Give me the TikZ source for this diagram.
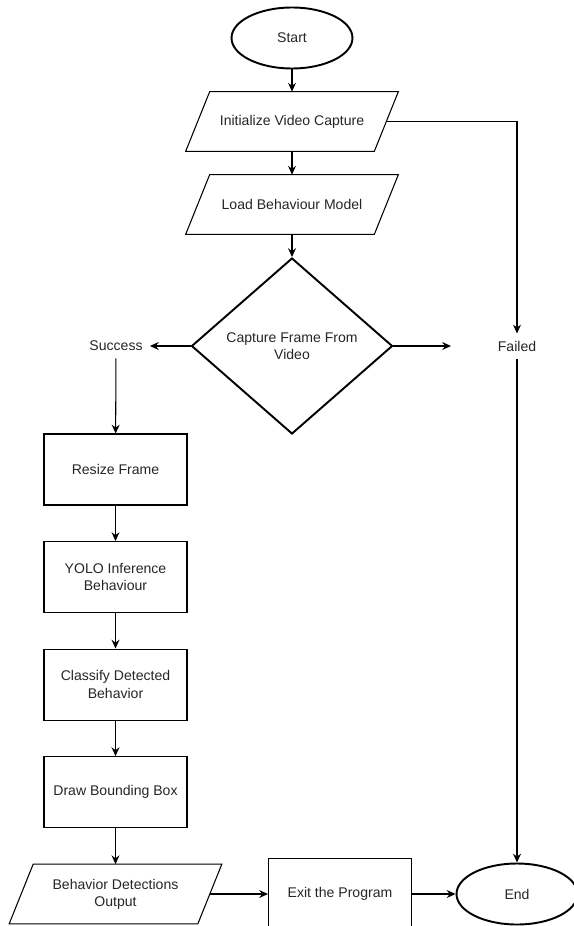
\documentclass[tikz,border=0pt]{standalone}
\usepackage{fontspec}
\setmainfont{Liberation Sans}
\usetikzlibrary{positioning,calc,shapes.geometric,arrows.meta}
\tikzset{>={Stealth[length=5pt,width=4.5pt]}}
\tikzset{
  flow/.style={font=\fontsize{8pt}{9.8pt}\selectfont,text=black!85,align=center},
  terminal/.style={flow,ellipse,draw,line width=1.1pt,minimum width=2.42cm,minimum height=1.22cm,inner sep=0pt},
  io/.style={flow,rectangle,minimum width=3.76cm,minimum height=1.18cm,inner sep=1pt},
  process/.style={flow,rectangle,draw,line width=0.6pt,minimum width=2.86cm,minimum height=1.42cm,inner sep=2pt},
  decision/.style={flow,diamond,draw,line width=1.1pt,aspect=1.14,minimum width=4.02cm,minimum height=3.52cm,inner sep=1pt},
  outcome/.style={flow,inner sep=4pt},
  link/.style={->,line width=0.6pt}
}

\begin{document}
\begin{tikzpicture}[x=0.02cm,y=-0.02cm]
\clip (0,0) rectangle (574,926);
% Draw the main column
\node[terminal] (start) at (292,38) {Start};
\node[io] (init) at (292,121.5) {Initialize Video Capture};
\node[io] (load) at (292,204.5) {Load Behaviour Model};
\node[decision] (capture) at (292,346) {Capture Frame From\\Video};

% Draw the two outcomes
\node[outcome] (success) at (116,346) {Success};
\node[outcome] (failed) at (517,346) {Failed};
\coordinate (failtip) at (451,346);

% Draw the success branch
\node[process] (resize) at (115.5,469.5) {Resize Frame};
\node[process,below=0.71cm of resize] (yolo) {YOLO Inference\\Behaviour};
\node[process,below=0.71cm of yolo] (classify) {Classify Detected\\Behavior};
\node[process,below=0.71cm of classify] (bbox) {Draw Bounding Box};

% Draw the bottom row
\node[io] (output) at (115.5,894) {Behavior Detections\\Output};
\node[process] (exit) at (340,894) {Exit the Program};
\node[terminal] (end) at (517,894) {End};

% Slanted sides of the input/output nodes
\foreach \n in {init,load,output}
  \draw[line width=0.6pt] ($(\n.north west)+(12,0)$) -- ($(\n.north east)+(12,0)$)
    -- ($(\n.south east)+(-12,0)$) -- ($(\n.south west)+(-12,0)$) -- cycle;

% Connect the nodes
\draw[link] (start) -- (init);
\draw[link] (init) -- (load);
\draw[link] (load) -- (capture);
\draw[link] (capture) -- (success);
\draw[link] (capture.east) -- (failtip);
\draw[link] (init.east) -| (failed);
\draw[link] (failed) -- (end);
\draw[link] (success) -- (resize);
\draw[link] (resize) -- (yolo);
\draw[link] (yolo) -- (classify);
\draw[link] (classify) -- (bbox);
\draw[link] (bbox) -- (output);
\draw[link] (output) -- (exit);
\draw[link] (exit) -- (end);
\end{tikzpicture}
\end{document}
